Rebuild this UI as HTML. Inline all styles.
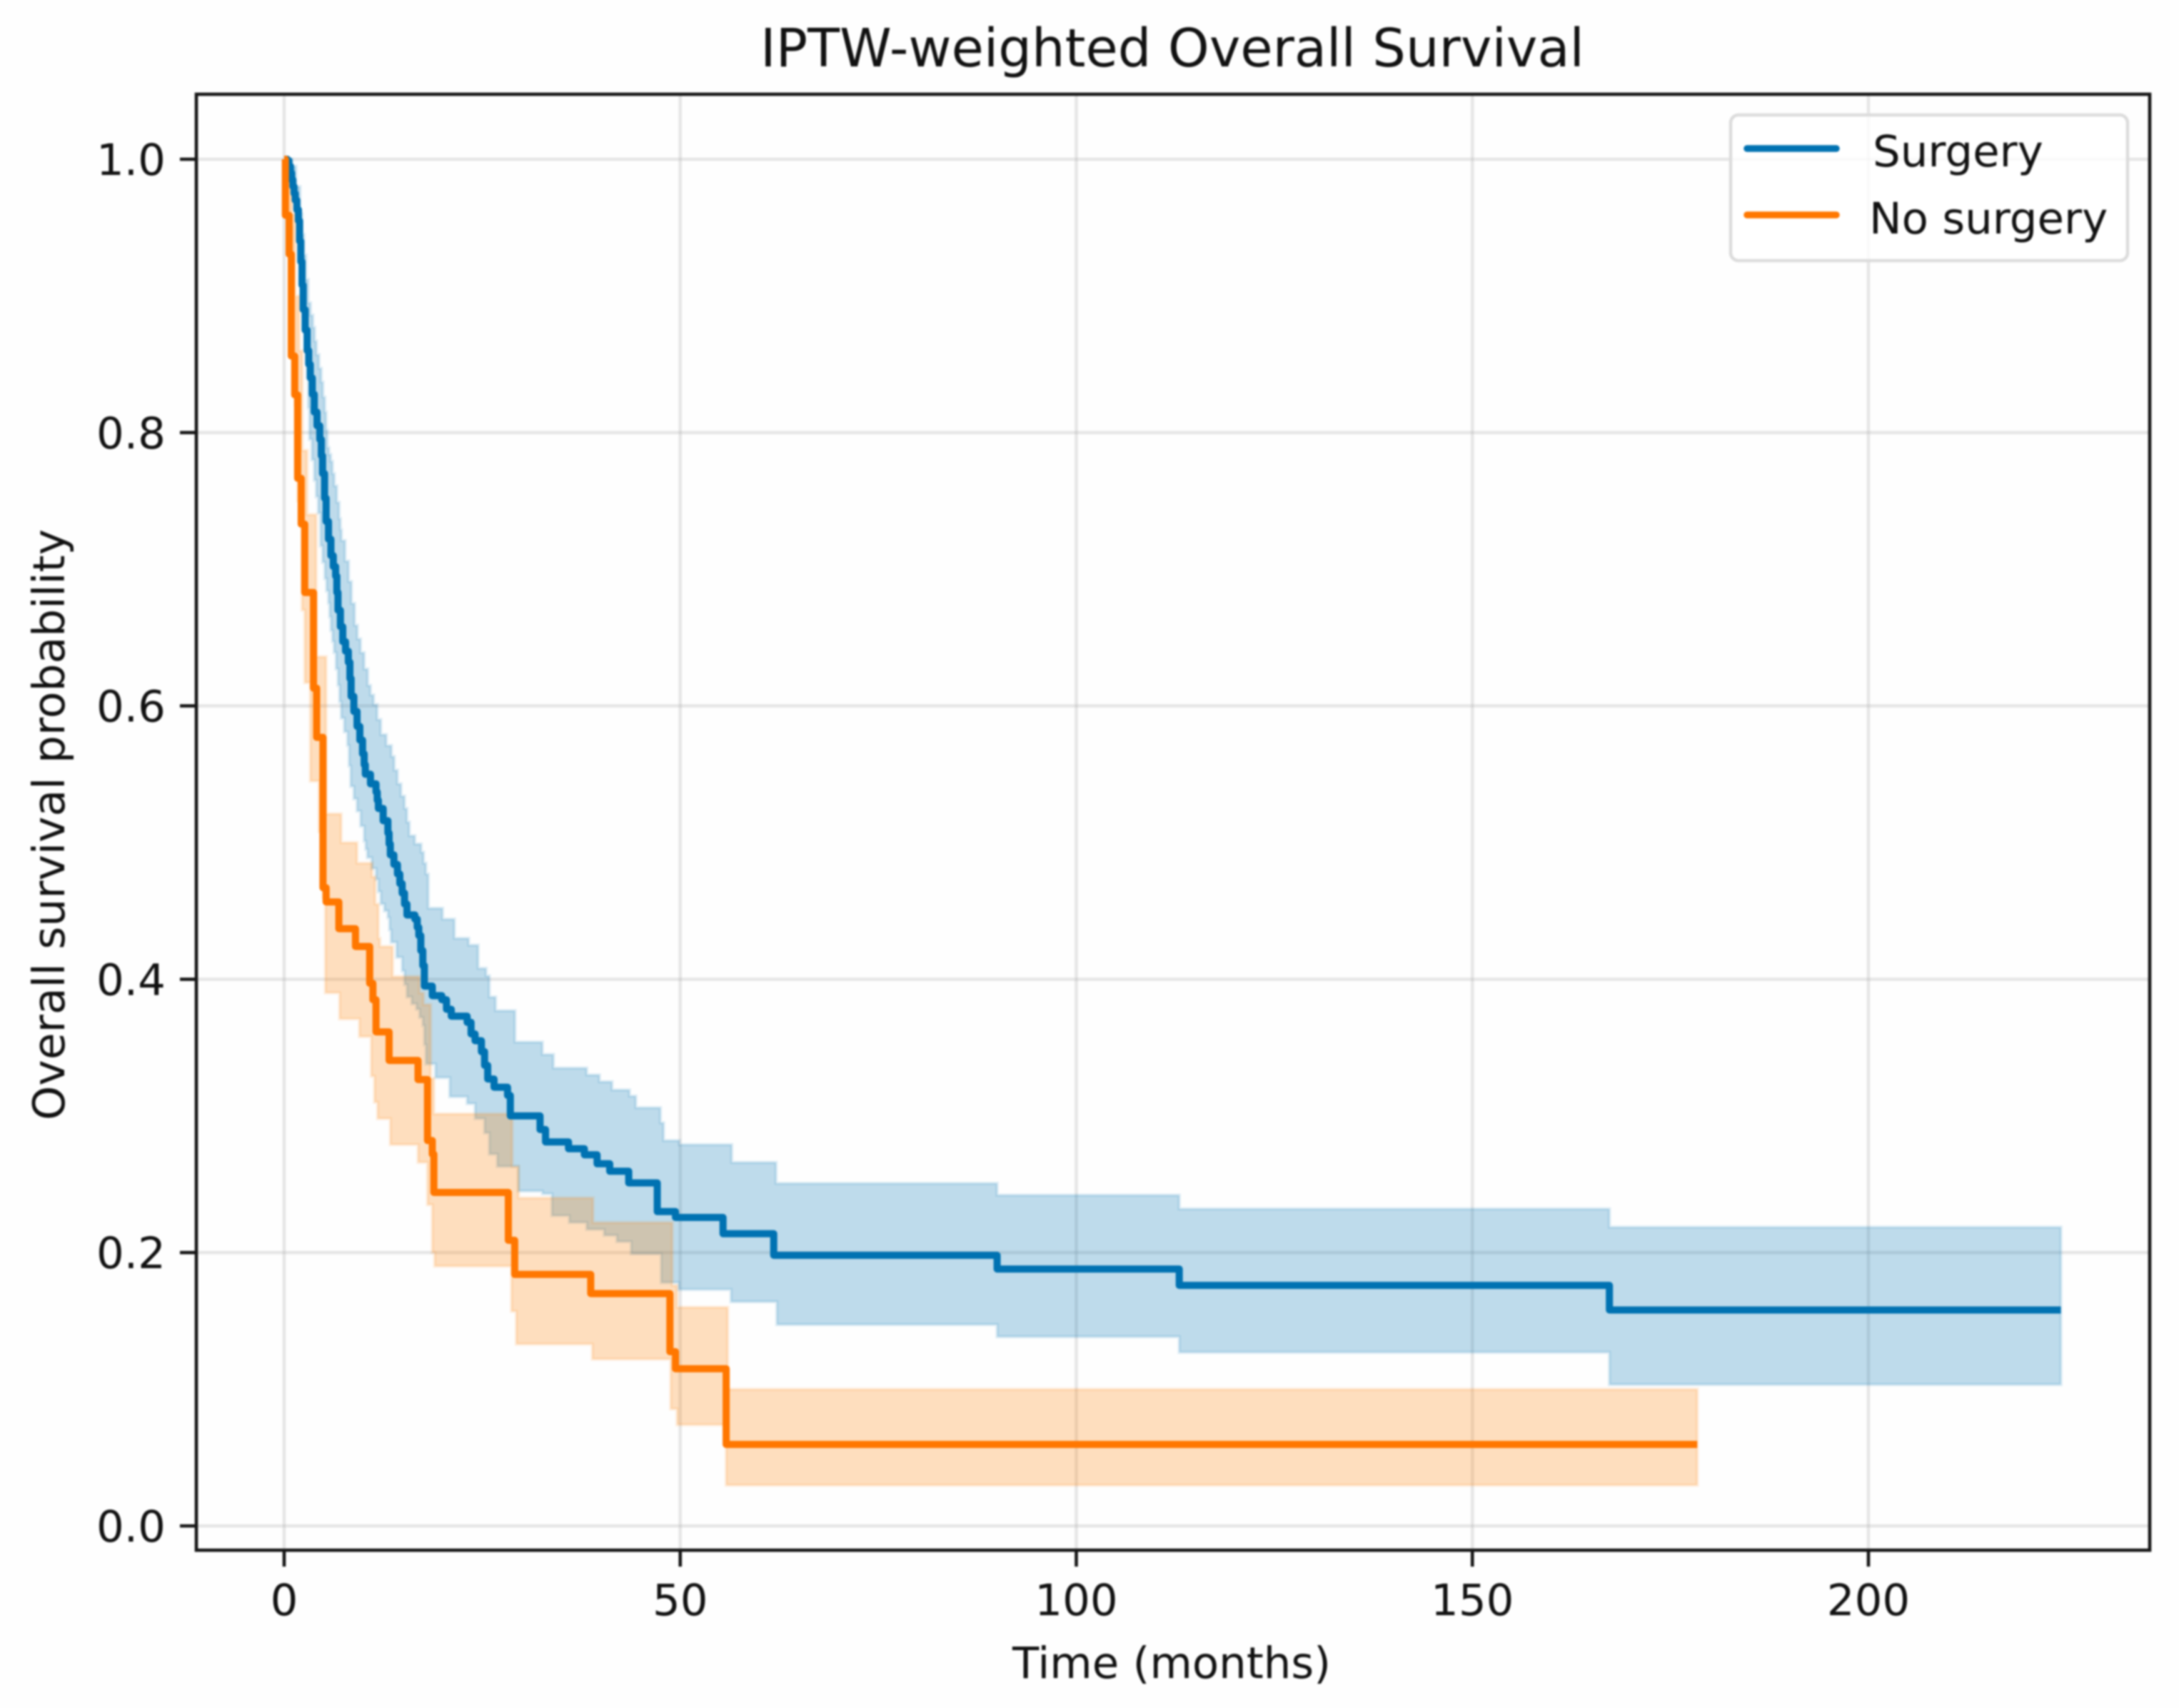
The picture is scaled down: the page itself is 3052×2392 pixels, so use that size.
<!DOCTYPE html>
<html lang="en">
<head>
<meta charset="utf-8">
<title>IPTW-weighted Overall Survival</title>
<style>
html,body{margin:0;padding:0;background:#fefefe;width:3052px;height:2392px;overflow:hidden}
#chart{display:block;filter:blur(1.2px)}
text{font-family:"DejaVu Sans","Liberation Sans",sans-serif;fill:#111111}
</style>
</head>
<body>
<svg id="chart" xmlns="http://www.w3.org/2000/svg" width="3052" height="2392" viewBox="0 0 3052 2392">
<rect x="0" y="0" width="3052" height="2392" fill="#fefefe"/>
<g id="grid"></g>
<g id="bands"></g>
<g id="lines"></g>
<rect x="275" y="132" width="2736" height="2039" fill="none" stroke="#151515" stroke-width="4.6"/>
<g id="ticks"></g>
<text x="1642" y="93" font-size="73.6" text-anchor="middle">IPTW-weighted Overall Survival</text>
<text x="1641" y="2350" font-size="61" text-anchor="middle">Time (months)</text>
<text x="90" y="1155" font-size="61.5" text-anchor="middle" transform="rotate(-90 90 1155)">Overall survival probability</text>
<g>
<rect x="2424" y="161" width="556" height="204" rx="11" ry="11" fill="#ffffff" fill-opacity="0.8" stroke="#dcdcdc" stroke-width="4.6"/>
<line x1="2447" y1="208" x2="2572" y2="208" stroke="#0072B2" stroke-width="9.5" stroke-linecap="round"/>
<line x1="2447" y1="301" x2="2572" y2="301" stroke="#FF7700" stroke-width="9.5" stroke-linecap="round"/>
<text x="2623" y="233" font-size="61">Surgery</text>
<text x="2618" y="327" font-size="61">No surgery</text>
</g>
</svg>
<script>
const xTickValues = [0, 50, 100, 150, 200];
const xTickLabels = ["0", "50", "100", "150", "200"];
const yTickValues = [0, 0.2, 0.4, 0.6, 0.8, 1];
const yTickLabels = ["0.0", "0.2", "0.4", "0.6", "0.8", "1.0"];

const surgeryTimes = [0,0.4,0.6,0.8,0.95,1.1,1.25,1.4,1.6,1.8,1.95,2.1,2.25,2.4,2.65,2.9,3.1,3.3,3.55,3.8,4.15,4.5,4.7,4.85,5.1,5.3,5.6,5.9,6.2,6.5,6.65,6.8,7.1,7.4,7.75,8.1,8.3,8.45,8.8,9.2,9.55,9.9,10.1,10.25,10.9,11.6,11.75,11.9,12.5,13.1,13.25,13.4,13.85,14.3,14.6,14.9,15.2,15.5,16.5,16.8,17,17.25,17.5,17.7,18.7,19.9,20.5,21.1,23.1,23.6,24.1,24.9,25.3,25.7,26.5,28.2,28.55,32.3,33,35.9,37.9,39.5,41.1,43.5,47.1,49.4,55.4,61.8,90,113,167.3,224.3];
const surgerySurvival = [1,0.999,0.995,0.99,0.985,0.98,0.975,0.97,0.963,0.955,0.94,0.925,0.908,0.89,0.875,0.86,0.85,0.84,0.828,0.815,0.805,0.795,0.783,0.77,0.752,0.735,0.722,0.71,0.702,0.695,0.683,0.67,0.658,0.647,0.64,0.632,0.62,0.607,0.596,0.585,0.575,0.565,0.557,0.55,0.543,0.537,0.531,0.525,0.516,0.507,0.499,0.491,0.484,0.477,0.47,0.463,0.455,0.447,0.444,0.438,0.432,0.421,0.41,0.395,0.388,0.385,0.378,0.373,0.3685,0.36,0.355,0.347,0.337,0.327,0.321,0.315,0.3,0.29,0.281,0.276,0.2716,0.265,0.2595,0.251,0.23,0.2257,0.2138,0.198,0.188,0.176,0.158,0.158];

const surgeryUpperTimes = [0,0.5,1,1.5,2,2.25,2.5,2.75,3.03,3.33,3.63,3.85,4.08,4.4,4.69,4.9,5.14,5.3,5.44,5.65,5.89,6.1,6.34,6.65,6.94,7.1,7.24,7.7,8.14,8.5,8.9,9.25,9.64,10.1,10.55,10.9,11.3,11.75,12.2,12.9,13.55,13.9,14.3,14.75,15.2,15.5,15.8,16.5,17.3,17.6,17.9,18.2,20,21.5,23.3,24.5,25.5,25.9,26.7,29.15,32.6,34,38.2,39.8,41.4,43.6,44.4,47.5,47.9,49.9,56.5,62.1,90,113,167.3,224.3];
const surgeryUpperValues = [1,1,0.995,0.98,0.96,0.945,0.93,0.912,0.895,0.886,0.877,0.867,0.857,0.847,0.837,0.826,0.815,0.802,0.789,0.784,0.779,0.77,0.761,0.749,0.737,0.729,0.721,0.706,0.691,0.675,0.659,0.649,0.639,0.627,0.615,0.608,0.601,0.59,0.579,0.571,0.563,0.553,0.543,0.534,0.525,0.515,0.505,0.499,0.493,0.485,0.477,0.452,0.444,0.43,0.425,0.408,0.4025,0.387,0.377,0.354,0.345,0.335,0.33,0.325,0.319,0.3145,0.306,0.295,0.282,0.279,0.266,0.2507,0.242,0.232,0.2186,0.2186];

const surgeryLowerTimes = [0,0.5,1,1.5,2,2.4,2.65,2.9,3.05,3.2,3.5,3.8,4.05,4.3,4.6,4.85,5.14,5.35,5.6,5.75,5.9,6.1,6.3,6.55,6.8,7,7.2,7.6,8,8.2,8.4,8.8,9.2,9.65,10.1,10.3,10.5,11.05,11.6,11.9,12.2,12.65,13.1,13.3,13.5,14.2,14.9,15.2,15.5,16.1,16.7,17.1,17.5,17.7,17.9,19.1,20.9,23.1,24.1,25.3,25.9,26.9,29.55,32.6,33.8,36,38.2,40.4,42,43.8,47.6,49.8,56.4,62.2,90,113,167.3,224.3];
const surgeryLowerValues = [1,0.995,0.98,0.96,0.935,0.885,0.862,0.84,0.818,0.795,0.78,0.765,0.753,0.741,0.717,0.705,0.693,0.684,0.675,0.665,0.655,0.647,0.639,0.627,0.615,0.603,0.591,0.581,0.571,0.556,0.541,0.532,0.523,0.512,0.501,0.495,0.489,0.481,0.473,0.464,0.455,0.45,0.445,0.436,0.427,0.416,0.406,0.396,0.387,0.382,0.378,0.372,0.366,0.352,0.338,0.328,0.314,0.309,0.298,0.2875,0.272,0.263,0.245,0.243,0.227,0.222,0.217,0.2126,0.208,0.199,0.178,0.173,0.164,0.1473,0.1384,0.127,0.1034,0.1034];

const noSurgeryTimes = [0,0.15,0.63,0.9,1.33,1.7,2.15,2.6,3.7,4.1,4.9,5.3,6.9,9,10.8,11.2,11.6,13.25,16.9,18.1,18.7,18.9,28.3,29.1,38.7,48.7,49.4,55.8,178.4];
const noSurgerySurvival = [1,0.959,0.9305,0.856,0.8276,0.7665,0.733,0.683,0.613,0.577,0.467,0.4566,0.437,0.424,0.397,0.385,0.3615,0.3406,0.3266,0.282,0.272,0.244,0.209,0.184,0.17,0.1275,0.115,0.0596,0.0596];

const noSurgeryUpperTimes = [0,0.6,1,1.4,1.9,2.3,2.9,4.05,5.3,7.2,9.2,11.1,11.5,11.9,12.1,13.7,17.1,17.6,18.5,18.9,28.8,29.6,39,49,49.6,56,178.4];
const noSurgeryUpperValues = [1,0.99,0.96,0.9,0.86,0.787,0.74,0.636,0.521,0.5,0.485,0.475,0.455,0.43,0.424,0.402,0.39,0.3815,0.3276,0.3015,0.263,0.24,0.222,0.176,0.16,0.1,0.1];

const noSurgeryLowerTimes = [0,0.6,1,1.4,1.7,2.25,2.6,3.3,4.4,4.9,5.2,7,9.5,11,11.4,11.8,13.4,16.9,18.1,18.7,19,28.7,29.3,38.9,48.8,49.6,55.8,178.4];
const noSurgeryLowerValues = [1,0.95,0.9,0.82,0.75,0.67,0.617,0.545,0.508,0.46,0.39,0.371,0.358,0.329,0.31,0.298,0.279,0.266,0.235,0.2,0.19,0.157,0.133,0.122,0.0856,0.074,0.0298,0.0298];

const svgNS = "http://www.w3.org/2000/svg";
const plotLeft = 275, plotRight = 3011, plotTop = 132, plotBottom = 2171;
function xScale(t) { return 398 + t * 11.095; }
function yScale(v) { return 2137 - v * 1914; }

function make(parent, tag, attrs, text) {
  const el = document.createElementNS(svgNS, tag);
  for (const k in attrs) el.setAttribute(k, attrs[k]);
  if (text !== undefined) el.textContent = text;
  parent.appendChild(el);
  return el;
}

function stepLine(times, values) {
  let d = "M" + xScale(times[0]).toFixed(1) + " " + yScale(values[0]).toFixed(1);
  for (let i = 1; i < times.length; i++) {
    d += "H" + xScale(times[i]).toFixed(1) + "V" + yScale(values[i]).toFixed(1);
  }
  return d;
}

function bandOutline(upT, upV, loT, loV) {
  let d = stepLine(upT, upV);
  const n = loT.length - 1;
  d += "V" + yScale(loV[n]).toFixed(1);
  for (let i = n; i > 0; i--) {
    d += "H" + xScale(loT[i]).toFixed(1) + "V" + yScale(loV[i - 1]).toFixed(1);
  }
  return d + "Z";
}

const gridGroup = document.getElementById("grid");
const tickGroup = document.getElementById("ticks");
const bandGroup = document.getElementById("bands");
const lineGroup = document.getElementById("lines");
const gridStyle = { stroke: "#b0b0b0", "stroke-opacity": "0.3", "stroke-width": "4.6" };
const tickStyle = { stroke: "#151515", "stroke-width": "4.6" };

xTickValues.forEach(function (value, i) {
  const x = xScale(value);
  const grid = make(gridGroup, "line", Object.assign({ x1: x, x2: x, y1: plotTop, y2: plotBottom }, gridStyle));
  
  
  const tick = make(tickGroup, "line", Object.assign({ x1: x, x2: x, y1: plotBottom, y2: plotBottom + 23 }, tickStyle));
  
  
  const label = make(tickGroup, "text", { x: x, y: 2262, "font-size": "61", "text-anchor": "middle" }, xTickLabels[i]);
  
  
});

yTickValues.forEach(function (value, i) {
  const y = yScale(value);
  const grid = make(gridGroup, "line", Object.assign({ x1: plotLeft, x2: plotRight, y1: y, y2: y }, gridStyle));
  
  
  const tick = make(tickGroup, "line", Object.assign({ x1: plotLeft - 23, x2: plotLeft, y1: y, y2: y }, tickStyle));
  
  
  const label = make(tickGroup, "text", { x: 232, y: y + 22, "font-size": "61", "text-anchor": "end" }, yTickLabels[i]);
  
  
});

const surgeryBand = make(bandGroup, "path", {
  d: bandOutline(surgeryUpperTimes, surgeryUpperValues, surgeryLowerTimes, surgeryLowerValues),
  fill: "#0072B2", "fill-opacity": "0.25", stroke: "#0072B2", "stroke-opacity": "0.12", "stroke-width": "4.6"
});



const noSurgeryBand = make(bandGroup, "path", {
  d: bandOutline(noSurgeryUpperTimes, noSurgeryUpperValues, noSurgeryLowerTimes, noSurgeryLowerValues),
  fill: "#FF7F00", "fill-opacity": "0.25", stroke: "#FF7F00", "stroke-opacity": "0.12", "stroke-width": "4.6"
});



const surgeryLine = make(lineGroup, "path", {
  d: stepLine(surgeryTimes, surgerySurvival),
  fill: "none", stroke: "#0072B2", "stroke-width": "10", "stroke-linejoin": "round", "stroke-linecap": "butt"
});



const noSurgeryLine = make(lineGroup, "path", {
  d: stepLine(noSurgeryTimes, noSurgerySurvival),
  fill: "none", stroke: "#FF7700", "stroke-width": "10", "stroke-linejoin": "round", "stroke-linecap": "butt"
});


</script>
</body>
</html>
